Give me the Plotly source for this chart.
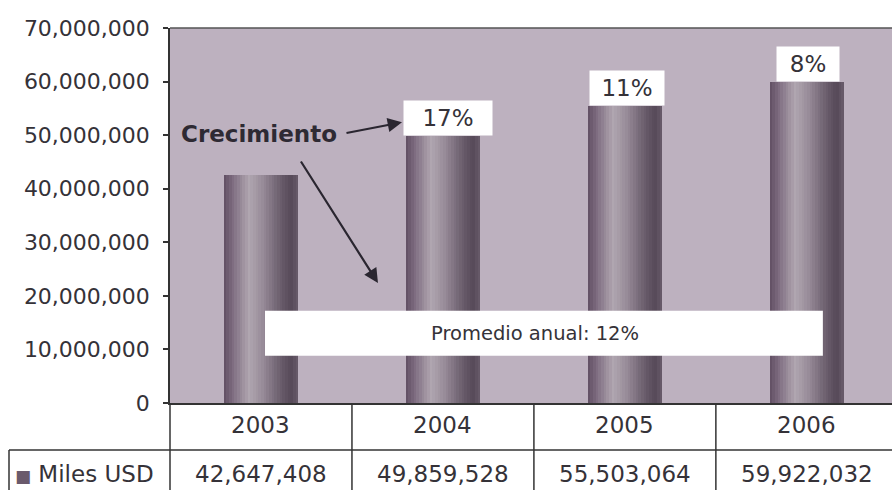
import plotly.graph_objects as go

# ---------------- data ----------------
years = ["2003", "2004", "2005", "2006"]
values = [42647408, 49859528, 55503064, 59922032]
growth = ["", "17%", "11%", "8%"]
value_labels = ["42,647,408", "49,859,528", "55,503,064", "59,922,032"]
series_name = "Miles USD"
avg_label = "Promedio anual: 12%"
growth_word = "Crecimiento"
y_ticks = [0, 10000000, 20000000, 30000000, 40000000, 50000000, 60000000, 70000000]
y_tick_text = [f"{v:,}" for v in y_ticks]

# ---------------- style ----------------
FONT = "DejaVu Sans, sans-serif"
TXT = "#353238"
LINE = "#333333"
BG = "#bdb1bf"
BAR_W = 0.41
N_STRIPES = 28
stops = [(0.0, (96, 78, 98)), (0.12, (126, 108, 128)), (0.34, (176, 166, 176)),
         (0.52, (152, 140, 153)), (0.74, (110, 97, 112)), (0.9, (86, 73, 88)),
         (1.0, (106, 93, 108))]
label_box_w = [0, 86, 72, 60]
label_box_shift = [0, 5, 2, 1]

def grad(t):
    for (p0, c0), (p1, c1) in zip(stops[:-1], stops[1:]):
        if p0 <= t <= p1:
            f = (t - p0) / (p1 - p0)
            return "rgb(%d,%d,%d)" % tuple(round(a + (b - a) * f) for a, b in zip(c0, c1))
    return "rgb(%d,%d,%d)" % stops[-1][1]

idx = list(range(len(years)))

fig = go.Figure()
sw = BAR_W / N_STRIPES
for i in range(N_STRIPES):
    fig.add_trace(go.Bar(
        x=idx, y=values, width=[sw * 1.05] * len(idx),
        offset=-BAR_W / 2 + i * sw,
        marker=dict(color=grad((i + 0.5) / N_STRIPES), line=dict(width=0)),
        hoverinfo="skip", showlegend=False))

H_PLOT = 490 - 28 - 87
W_PLOT = 892 - 170

def py(px):  # pixel y -> paper y
    return (403 - px) / H_PLOT

def pxx(px):  # pixel x -> paper x
    return (px - 170) / W_PLOT

shapes = []
shapes.append(dict(type="line", xref="paper", yref="paper", x0=0, x1=1, y0=1, y1=1,
                   line=dict(color="#555555", width=1.5)))
shapes.append(dict(type="line", xref="paper", yref="paper", x0=pxx(9), x1=1,
                   y0=py(450), y1=py(450), line=dict(color=LINE, width=1.5)))
shapes.append(dict(type="line", xref="paper", yref="paper", x0=0, x1=0,
                   y0=0, y1=py(492), line=dict(color=LINE, width=1.5)))
shapes.append(dict(type="line", xref="paper", yref="paper", x0=pxx(9), x1=pxx(9),
                   y0=py(450), y1=py(492), line=dict(color=LINE, width=1.5)))
for k in range(len(years) - 1):
    shapes.append(dict(type="line", xref="x", yref="paper", x0=k + 0.5, x1=k + 0.5,
                       y0=0, y1=py(492), line=dict(color=LINE, width=1.5)))
shapes.append(dict(type="rect", xref="x", yref="y", x0=0.022, x1=3.088,
                   y0=8.8e6, y1=17.2e6, fillcolor="white", line=dict(width=0),
                   layer="above"))

annotations = []
for i in idx:
    annotations.append(dict(x=i, y=py(425), xref="x", yref="paper", text=years[i],
                            showarrow=False, yanchor="middle",
                            font=dict(family=FONT, size=23, color=TXT)))
    annotations.append(dict(x=i, y=py(474), xref="x", yref="paper", text=value_labels[i],
                            showarrow=False, yanchor="middle",
                            font=dict(family=FONT, size=23, color=TXT)))
    if growth[i]:
        annotations.append(dict(x=i, y=values[i], xref="x", yref="y", text=growth[i],
                                showarrow=False, yanchor="bottom", bgcolor="white",
                                width=label_box_w[i], height=32, borderpad=1,
                                xshift=label_box_shift[i],
                                font=dict(family=FONT, size=23, color=TXT)))
annotations.append(dict(x=pxx(13), y=py(474), xref="paper", yref="paper", xanchor="left",
                        yanchor="middle", showarrow=False,
                        text="<span style='font-size:17px;color:#6a5a6c'>■</span> " + series_name,
                        font=dict(family=FONT, size=23, color=TXT)))
annotations.append(dict(x=1.505, y=13.0e6, xref="x", yref="y", text=avg_label,
                        showarrow=False, font=dict(family=FONT, size=19.5, color=TXT)))
annotations.append(dict(x=-0.012, y=50.3e6, xref="x", yref="y", text="<b>" + growth_word + "</b>",
                        showarrow=False, font=dict(family=FONT, size=23, color="#2e2a33")))
annotations.append(dict(x=0.775, y=52.4e6, xref="x", yref="y", text="", showarrow=True,
                        ax=-57, ay=11, arrowhead=2, arrowsize=1.3, arrowwidth=2.2,
                        arrowcolor="#2a2630"))
annotations.append(dict(x=0.643, y=22.4e6, xref="x", yref="y", text="", showarrow=True,
                        ax=-78, ay=-123, arrowhead=2, arrowsize=1.3, arrowwidth=2.2,
                        arrowcolor="#2a2630"))

fig.update_layout(
    width=892, height=490,
    margin=dict(l=170, r=0, t=28, b=87),
    paper_bgcolor="white", plot_bgcolor=BG,
    barmode="overlay", bargap=0,
    showlegend=False,
    shapes=shapes, annotations=annotations,
    xaxis=dict(type="linear", range=[-0.5, 3.468], showticklabels=False, ticks="",
               showline=True, linecolor=LINE, linewidth=1.5, showgrid=False, zeroline=False,
               fixedrange=True),
    yaxis=dict(range=[0, 70000000], tickmode="array", tickvals=y_ticks, ticktext=y_tick_text,
               ticks="outside", ticklen=5, tickcolor=LINE, tickwidth=1.5,
               showline=True, linecolor=LINE, linewidth=1.5, showgrid=False, zeroline=False,
               tickfont=dict(family=FONT, size=22, color=TXT), ticklabelstandoff=9,
               fixedrange=True),
)

fig.write_html("out.html")
